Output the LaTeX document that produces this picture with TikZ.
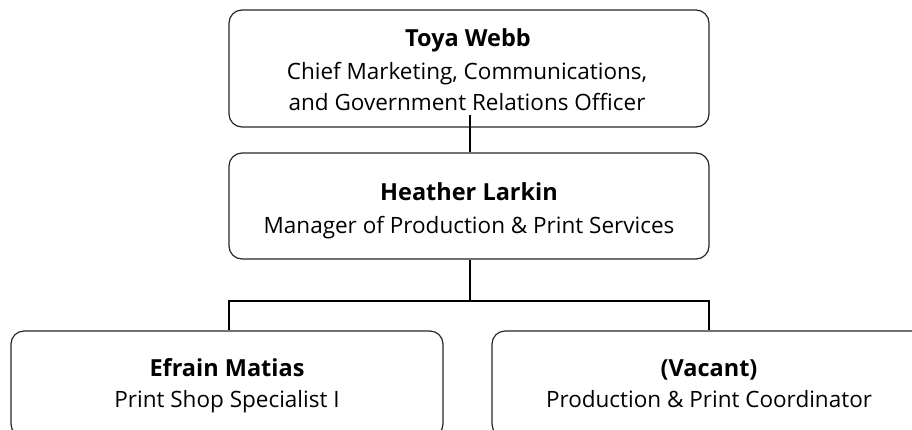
\documentclass[tikz,border=0pt]{standalone}
\usepackage{fontspec}
\setmainfont{Open Sans}
\begin{document}
\begin{tikzpicture}[x=1pt,y=1pt,
  box/.style={draw=black!85, line width=1.2pt, rounded corners=13pt, inner sep=0pt},
  nametext/.style={anchor=base, inner sep=0pt, font=\fontsize{23.5}{28}\selectfont\bfseries},
  roletext/.style={anchor=base, inner sep=0pt, font=\fontsize{22.5}{27}\selectfont},
  link/.style={draw=black, line width=1.3pt}]
  \useasboundingbox (0,0) rectangle (912,-429);
  \begin{scope}
    \clip (0,0) rectangle (912,-429);
    % boxes
    \node[box, minimum width=480pt, minimum height=117pt] (ceo) at (469,-68.5) {};
    \node[box, minimum width=480pt, minimum height=106pt] (mgr) at (469,-206) {};
    \node[box, minimum width=432pt, minimum height=106pt] (spec) at (227,-384) {};
    \node[box, minimum width=434pt, minimum height=106pt] (coord) at (709,-384) {};
    % texts
    \node[nametext] (ceoname) at (468,-46.7) {Toya Webb};
    \node[roletext] (ceorole1) at (467,-79.5) {Chief Marketing, Communications,};
    \node[roletext] (ceorole2) at (467,-110) {and Government Relations Officer};
    \node[nametext] (mgrname) at (469,-200) {Heather Larkin};
    \node[roletext] (mgrrole) at (469,-233) {Manager of Production \& Print Services};
    \node[nametext] (specname) at (227,-376.7) {Efrain Matias};
    \node[roletext] (specrole) at (227,-407.3) {Print Shop Specialist I};
    \node[nametext] (coordname) at (709,-376.7) {(Vacant)};
    \node[roletext] (coordrole) at (709,-407.3) {Production \& Print Coordinator};
    % connectors
    \coordinate (stub) at (470,-115);
    \coordinate (bus) at (470,-301);
    \coordinate (lb) at (229,-301);
    \coordinate (rb) at (709,-301);
    \draw[link] (stub) -- (stub |- mgr.north);
    \draw[link] (bus |- mgr.south) -- (bus);
    \draw[link] (lb |- spec.north) -- (lb) -- (rb) -- (rb |- coord.north);
  \end{scope}
\end{tikzpicture}
\end{document}
